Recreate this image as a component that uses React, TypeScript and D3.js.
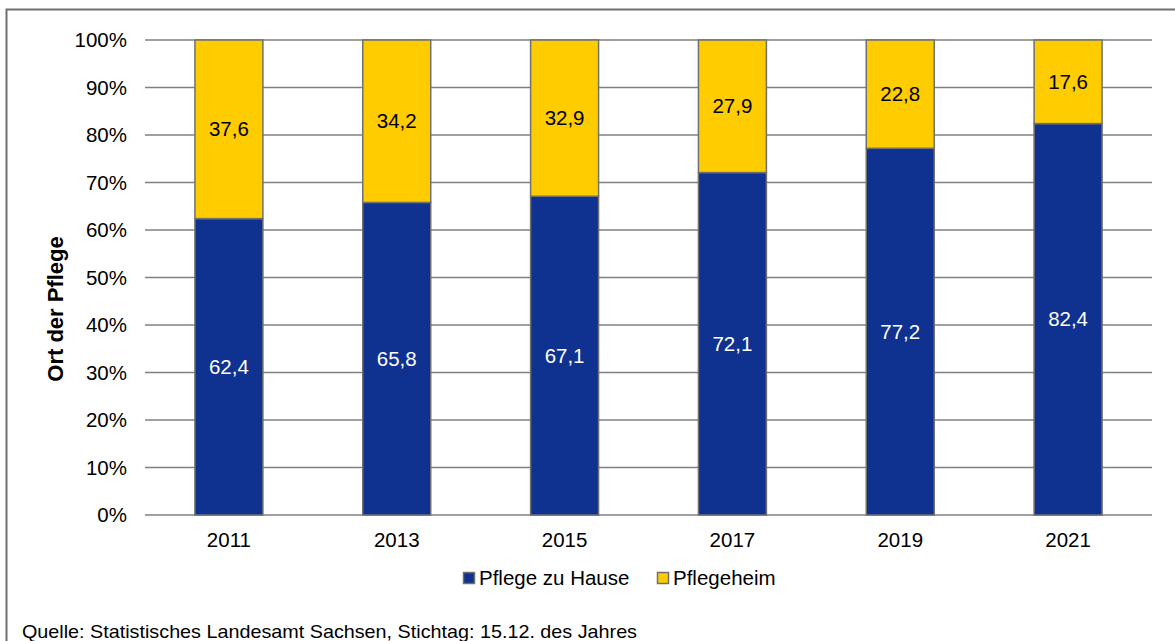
import React from "react";
import * as d3 from "d3";

const years = ["2011", "2013", "2015", "2017", "2019", "2021"];
const homeCare = [62.4, 65.8, 67.1, 72.1, 77.2, 82.4];
const nursingHome = [37.6, 34.2, 32.9, 27.9, 22.8, 17.6];
const yTicks = [0, 10, 20, 30, 40, 50, 60, 70, 80, 90, 100];
const seriesNames = ["Pflege zu Hause", "Pflegeheim"];
const colors = ["#0f318f", "#ffcc00"];

const fmt = (v: number) => v.toFixed(1).replace(".", ",");

export default function App() {
  const W = 1175, H = 641;
  const left = 145, right = 1152, top = 40, bottom = 515;
  const x = d3.scaleBand<string>().domain(years).range([left, right]).paddingInner(0.595).paddingOuter(0.2975);
  const y = d3.scaleLinear().domain([0, 100]).range([bottom, top]);
  const font = "Arial, 'Liberation Sans', sans-serif";
  const bw = x.bandwidth();
  const fs = 20.5;
  return (
    <svg width={W} height={H} style={{ position: "absolute", left: 0, top: 0 }} fontFamily={font}>
      <rect x={0} y={0} width={W} height={H} fill="#fff" />
      <rect x={6.5} y={9.5} width={1200} height={700} fill="none" stroke="#707070" strokeWidth={2} />
      {yTicks.map((t) => (
        <g key={t}>
          <line x1={left} x2={right} y1={y(t)} y2={y(t)} stroke="#808080" strokeWidth={1.5} />
          <text x={127} y={y(t)} dy="0.35em" textAnchor="end" fontSize={fs} fill="#000">{t}%</text>
        </g>
      ))}
      {years.map((yr, i) => {
        const x0 = x(yr)!;
        const h = homeCare[i];
        const n = nursingHome[i];
        return (
          <g key={yr}>
            <rect x={x0} y={y(h)} width={bw} height={y(0) - y(h)} fill={colors[0]} stroke="#707070" strokeWidth={1.5} />
            <rect x={x0} y={y(h + n)} width={bw} height={y(h) - y(h + n)} fill={colors[1]} stroke="#707070" strokeWidth={1.5} />
            <text x={x0 + bw / 2} y={y(h / 2)} dy="0.35em" textAnchor="middle" fontSize={fs} fill="#fff">{fmt(h)}</text>
            <text x={x0 + bw / 2} y={y(h + n / 2)} dy="0.35em" textAnchor="middle" fontSize={fs} fill="#000">{fmt(n)}</text>
            <text x={x0 + bw / 2} y={540} dy="0.35em" textAnchor="middle" fontSize={fs} fill="#000">{yr}</text>
          </g>
        );
      })}
      <text transform={`translate(55,309) rotate(-90)`} textAnchor="middle" dy="0.35em" fontSize={22} fontWeight="bold" fill="#000">Ort der Pflege</text>
      <g>
        <rect x={463.5} y={572.5} width={11} height={11} fill={colors[0]} stroke="#707070" strokeWidth={1.5} />
        <text x={479} y={578} dy="0.35em" fontSize={fs} fill="#000">{seriesNames[0]}</text>
        <rect x={657.5} y={572.5} width={11} height={11} fill={colors[1]} stroke="#707070" strokeWidth={1.5} />
        <text x={673} y={578} dy="0.35em" fontSize={fs} fill="#000">{seriesNames[1]}</text>
      </g>
      <text x={22} y={631} dy="0.35em" fontSize={19} textLength={615} lengthAdjust="spacingAndGlyphs" fill="#000">Quelle: Statistisches Landesamt Sachsen, Stichtag: 15.12. des Jahres</text>
    </svg>
  );
}
